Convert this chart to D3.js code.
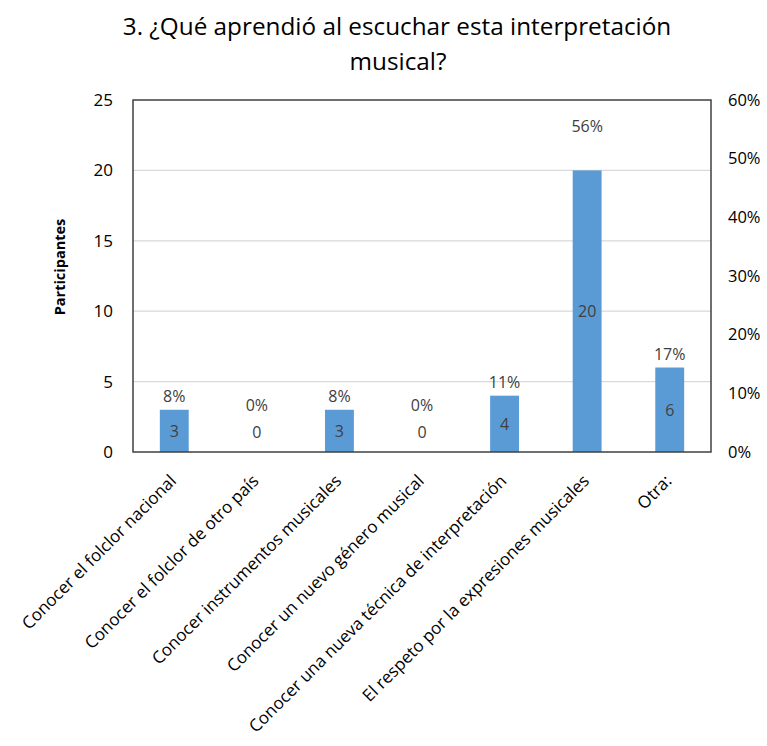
<!DOCTYPE html>
<html>
<head>
<meta charset="utf-8">
<script src="https://cdn.jsdelivr.net/npm/d3@7"></script>
<style>
  body { margin: 0; background: #fff; }
  svg text { font-family: "Open Sans", sans-serif; }
</style>
</head>
<body>
<svg id="chart"></svg>
<script>
const categories = [
  "Conocer el folclor nacional",
  "Conocer el folclor de otro país",
  "Conocer instrumentos musicales",
  "Conocer un nuevo género musical",
  "Conocer una nueva técnica de interpretación",
  "El respeto por la expresiones musicales",
  "Otra:"
]
const participants = [3, 0, 3, 0, 4, 20, 6]
const percents = [8, 0, 8, 0, 11, 56, 17]
const leftTicks = [0, 5, 10, 15, 20, 25]
const rightTicks = [0, 10, 20, 30, 40, 50, 60]

const width = 767, height = 746
const plot = { left: 133, right: 711, top: 100, bottom: 452 }

let svg = d3.select('#chart')
  .attr("width", width)
  .attr("height", height)

let x = d3.scaleBand()
  .domain(categories)
  .range([plot.left, plot.right])
  .paddingInner(0.65)
  .paddingOuter(0.325)

let y = d3.scaleLinear().domain([0, 25]).range([plot.bottom, plot.top])
let yPct = d3.scaleLinear().domain([0, 60]).range([plot.bottom, plot.top])

// title
svg.append("text")
  .attr("x", 397).attr("y", 35)
  .attr("text-anchor", "middle")
  .attr("font-size", 24.3).attr("fill", "#000")
  .text("3. ¿Qué aprendió al escuchar esta interpretación")
svg.append("text")
  .attr("x", 398).attr("y", 70)
  .attr("text-anchor", "middle")
  .attr("font-size", 24.3).attr("fill", "#000")
  .text("musical?")

// gridlines
svg.append("g")
  .selectAll("line")
  .data(leftTicks.filter(d => d > 0 && d < 25))
  .enter()
  .append("line")
  .attr("x1", plot.left).attr("x2", plot.right)
  .attr("y1", d => y(d)).attr("y2", d => y(d))
  .attr("stroke", "#d9d9d9").attr("stroke-width", 1.2)

// left axis
let leftAxis = svg.append("g")
  .attr("transform", "translate(" + plot.left + ",0)")
  .call(d3.axisLeft(y).tickValues(leftTicks).tickSize(0).tickPadding(20))
leftAxis.select(".domain").remove()
leftAxis.selectAll("text").attr("font-size", 17).attr("fill", "#000")
  .style("font-family", "'Open Sans', sans-serif")

// right axis
let rightAxis = svg.append("g")
  .attr("transform", "translate(" + plot.right + ",0)")
  .call(d3.axisRight(yPct).tickValues(rightTicks).tickSize(0).tickPadding(17)
    .tickFormat(d => d + "%"))
rightAxis.select(".domain").remove()
rightAxis.selectAll("text").attr("font-size", 16.5).attr("fill", "#000")
  .style("font-family", "'Open Sans', sans-serif")

// bars
svg.append("g")
  .selectAll("rect")
  .data(participants)
  .enter()
  .append("rect")
  .attr("x", (d, i) => x(categories[i]))
  .attr("y", d => y(d))
  .attr("width", x.bandwidth())
  .attr("height", d => plot.bottom - y(d))
  .attr("fill", "#5b9bd5")

// plot border
svg.append("rect")
  .attr("x", plot.left).attr("y", plot.top)
  .attr("width", plot.right - plot.left)
  .attr("height", plot.bottom - plot.top)
  .attr("fill", "none")
  .attr("stroke", "#404040").attr("stroke-width", 1.5)

// value labels inside bars
function valueY(d) {
  return d > 0 ? (y(d) + plot.bottom) / 2 : plot.bottom - 20
}
svg.append("g")
  .selectAll("text")
  .data(participants)
  .enter()
  .append("text")
  .attr("x", (d, i) => x(categories[i]) + x.bandwidth() / 2)
  .attr("y", d => valueY(d) + 6)
  .attr("text-anchor", "middle")
  .attr("font-size", 16).attr("fill", "#404040")
  .text(d => d)

// percent labels
svg.append("g")
  .selectAll("text")
  .data(percents)
  .enter()
  .append("text")
  .attr("x", (d, i) => x(categories[i]) + x.bandwidth() / 2)
  .attr("y", (d, i) => {
    let c = participants[i]
    let cy = c > 0 ? Math.min(y(c) - 14, yPct(d) + 3) : valueY(c) - 27
    return cy + 6
  })
  .attr("text-anchor", "middle")
  .attr("font-size", 16).attr("fill", "#404040")
  .text(d => d + "%")

// category labels
svg.append("g")
  .selectAll("text")
  .data(categories)
  .enter()
  .append("text")
  .attr("transform", d => "translate(" + (x(d) + x.bandwidth() / 2 + 3) + "," + 482 + ") rotate(-45)")
  .attr("text-anchor", "end")
  .attr("font-size", 17).attr("fill", "#000")
  .text(d => d)

// y axis title
svg.append("text")
  .attr("transform", "translate(65,267) rotate(-90)")
  .attr("text-anchor", "middle")
  .attr("font-size", 14.5).attr("font-weight", "bold").attr("fill", "#000")
  .text("Participantes")
</script>
</body>
</html>
